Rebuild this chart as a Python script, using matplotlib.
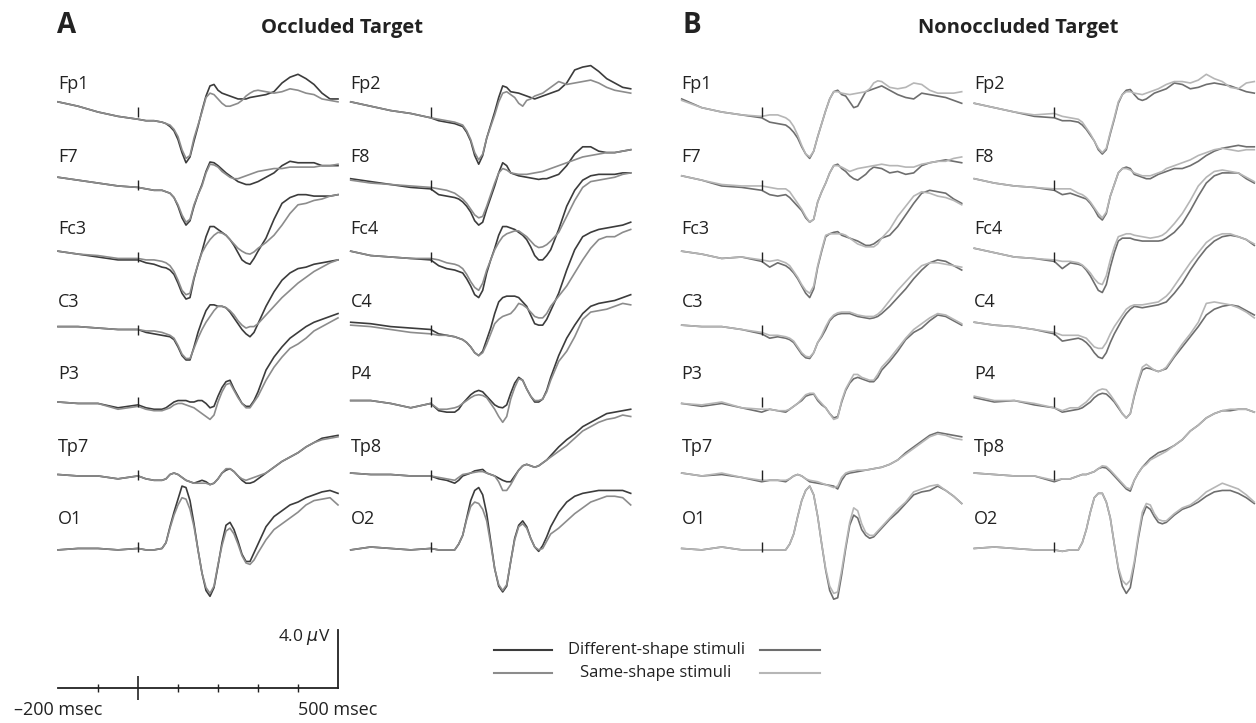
import matplotlib.pyplot as plt
from matplotlib.lines import Line2D

plt.rcParams['font.family'] = ['Open Sans', 'DejaVu Sans']

# time samples (msec), shared by every trace; denser where the components are
TIME = [-200, -150, -100, -50, 0, 20, 40,
        60, 70, 80, 90, 100, 110, 120, 130, 140, 150, 160, 170, 180, 190, 200,
        210, 220, 230, 240, 250, 260, 270, 280, 290, 300,
        320, 340, 360, 380, 400, 420, 440, 460, 480, 500]

# amplitudes in microvolts
# A: occluded target, left electrodes
occ_Fp1_diff = [0.7, 0.4, 0.0, -0.3, -0.5, -0.6, -0.6,
                -0.7, -0.8, -1.0, -1.3, -1.9, -2.8, -3.5, -3.1, -2.0, -1.0, 0.1, 1.1, 1.8, 1.9, 1.5, 1.3, 1.2, 1.1, 1.0, 0.9, 0.9, 0.9, 1.0, 1.05, 1.1,
                1.2, 1.4, 2.0, 2.4, 2.6, 2.3, 1.9, 1.3, 0.9, 0.9]
occ_Fp1_same = [0.7, 0.4, 0.0, -0.3, -0.5, -0.6, -0.6,
                -0.7, -0.8, -0.9, -1.2, -1.7, -2.6, -3.2, -3.0, -1.8, -0.9, 0.0, 1.0, 1.3, 1.2, 0.9, 0.6, 0.4, 0.4, 0.5, 0.6, 0.8, 1.1, 1.3, 1.45, 1.5,
                1.4, 1.3, 1.4, 1.6, 1.5, 1.3, 1.2, 0.9, 0.8, 0.7]
occ_F7_diff = [0.5, 0.3, 0.1, -0.1, -0.2, -0.3, -0.4,
               -0.4, -0.5, -0.6, -0.9, -1.5, -2.3, -2.8, -2.5, -1.5, -0.7, 0.0, 0.9, 1.55, 1.5, 1.3, 1.05, 0.8, 0.6, 0.4, 0.2, 0.1, 0.0, 0.0, 0.1, 0.2,
               0.5, 0.8, 1.3, 1.6, 1.5, 1.5, 1.5, 1.3, 1.3, 1.3]
occ_F7_same = [0.5, 0.3, 0.1, -0.1, -0.2, -0.3, -0.4,
               -0.4, -0.5, -0.6, -0.9, -1.4, -2.1, -2.6, -2.4, -1.4, -0.7, -0.1, 0.8, 1.4, 1.35, 1.2, 0.9, 0.7, 0.5, 0.4, 0.4, 0.5, 0.6, 0.7, 0.8, 0.9,
               1.0, 1.1, 1.1, 1.2, 1.2, 1.2, 1.2, 1.3, 1.3, 1.4]
occ_Fc3_diff = [0.4, 0.2, 0.0, -0.2, -0.2, -0.4, -0.5,
                -0.7, -0.75, -0.9, -1.2, -1.8, -2.5, -2.9, -2.8, -1.5, -0.5, 0.4, 1.4, 2.1, 2.1, 1.9, 1.7, 1.5, 1.2, 0.8, 0.3, -0.2, -0.4, -0.5, -0.1, 0.4,
                1.3, 2.6, 3.7, 4.1, 4.3, 4.3, 4.2, 4.2, 4.2, 4.3]
occ_Fc3_same = [0.4, 0.2, 0.1, -0.1, -0.1, -0.2, -0.2,
                -0.3, -0.4, -0.6, -1.0, -1.6, -2.3, -2.6, -2.5, -1.4, -0.5, 0.3, 0.8, 1.2, 1.5, 1.7, 1.65, 1.5, 1.2, 0.9, 0.6, 0.4, 0.25, 0.2, 0.35, 0.6,
                1.0, 1.5, 2.2, 3.0, 3.6, 3.7, 3.9, 4.0, 4.2, 4.3]
occ_C3_diff = [0.2, 0.2, 0.1, 0.0, 0.0, -0.2, -0.3,
               -0.4, -0.45, -0.5, -0.7, -1.2, -1.8, -2.1, -2.1, -1.2, -0.2, 0.6, 1.3, 1.7, 1.7, 1.6, 1.6, 1.5, 1.2, 0.8, 0.4, 0.0, -0.3, -0.5, -0.2, 0.4,
               1.6, 2.6, 3.4, 3.9, 4.2, 4.3, 4.5, 4.6, 4.7, 4.8]
occ_C3_same = [0.2, 0.2, 0.1, 0.0, 0.0, -0.1, -0.1,
               -0.2, -0.3, -0.4, -0.6, -1.1, -1.7, -2.0, -2.0, -1.3, -0.6, 0.0, 0.5, 0.9, 1.3, 1.6, 1.6, 1.5, 1.3, 1.0, 0.6, 0.3, 0.1, 0.2, 0.2, 0.4,
               1.0, 1.6, 2.2, 2.7, 3.2, 3.6, 4.0, 4.3, 4.6, 4.8]
occ_P3_diff = [0.0, -0.1, -0.1, -0.4, -0.2, -0.4, -0.5,
               -0.5, -0.4, -0.2, 0.0, 0.1, 0.1, 0.1, 0.0, 0.0, 0.1, 0.1, -0.1, -0.4, -0.3, 0.4, 1.0, 1.4, 1.5, 0.9, 0.4, -0.1, -0.3, -0.3, 0.1, 0.7,
               2.2, 3.1, 3.8, 4.4, 4.8, 5.2, 5.5, 5.7, 5.9, 6.1]
occ_P3_same = [0.0, -0.1, -0.1, -0.5, -0.3, -0.5, -0.6,
               -0.6, -0.5, -0.4, -0.2, -0.1, -0.1, -0.2, -0.3, -0.4, -0.6, -0.8, -1.0, -1.2, -0.9, 0.0, 0.7, 1.2, 1.3, 0.8, 0.3, -0.1, -0.4, -0.4, 0.0, 0.4,
               1.5, 2.4, 3.1, 3.7, 4.0, 4.4, 4.9, 5.2, 5.5, 5.8]
occ_Tp7_diff = [0.0, -0.1, -0.1, -0.3, -0.1, -0.3, -0.4,
                -0.4, -0.3, 0.0, 0.1, 0.0, -0.2, -0.4, -0.5, -0.6, -0.5, -0.4, -0.5, -0.7, -0.6, -0.3, 0.1, 0.3, 0.4, 0.2, -0.1, -0.4, -0.6, -0.6, -0.5, -0.3,
                0.1, 0.5, 0.9, 1.2, 1.5, 1.9, 2.2, 2.5, 2.6, 2.7]
occ_Tp7_same = [0.0, -0.1, -0.1, -0.3, -0.1, -0.3, -0.4,
                -0.4, -0.3, 0.0, 0.1, 0.0, -0.2, -0.4, -0.5, -0.6, -0.6, -0.6, -0.6, -0.7, -0.6, -0.3, 0.1, 0.4, 0.4, 0.2, -0.1, -0.3, -0.4, -0.3, -0.2, -0.1,
                0.1, 0.5, 0.9, 1.2, 1.5, 1.9, 2.2, 2.4, 2.5, 2.6]
occ_O1_diff = [-0.2, -0.1, -0.1, -0.2, -0.1, -0.2, -0.2,
               -0.1, 0.3, 1.4, 2.4, 3.3, 4.2, 4.1, 3.2, 1.6, -0.2, -1.8, -3.0, -3.4, -2.8, -1.3, 0.3, 1.5, 1.7, 1.2, 0.4, -0.5, -1.0, -1.0, -0.4, 0.2,
               1.4, 2.1, 2.5, 2.9, 3.1, 3.4, 3.6, 3.8, 3.9, 3.7]
occ_O1_same = [-0.2, -0.1, -0.1, -0.2, -0.1, -0.2, -0.2,
               -0.1, 0.3, 1.3, 2.2, 2.9, 3.4, 3.3, 2.6, 1.4, -0.2, -1.8, -2.8, -3.2, -2.7, -1.2, 0.1, 1.1, 1.3, 0.9, 0.2, -0.6, -1.1, -1.2, -0.9, -0.4,
               0.5, 1.2, 1.6, 2.0, 2.4, 2.9, 3.2, 3.3, 3.4, 2.9]

# A: occluded target, right electrodes
occ_Fp2_diff = [0.7, 0.4, 0.1, -0.1, -0.4, -0.6, -0.7,
                -0.8, -0.9, -1.0, -1.4, -2.0, -3.0, -3.6, -3.0, -1.8, -0.9, 0.0, 1.0, 1.8, 1.7, 1.4, 1.35, 1.3, 1.2, 1.1, 1.0, 0.9, 1.0, 1.1, 1.2, 1.3,
                1.5, 2.0, 2.9, 3.1, 3.2, 2.8, 2.3, 2.0, 1.7, 1.6]
occ_Fp2_same = [0.7, 0.4, 0.1, -0.1, -0.4, -0.5, -0.6,
                -0.7, -0.8, -0.9, -1.3, -1.9, -2.8, -3.3, -2.9, -1.8, -1.0, -0.2, 0.7, 1.3, 1.4, 1.2, 1.0, 0.6, 0.4, 0.8, 0.9, 1.1, 1.2, 1.3, 1.5, 1.7,
                2.1, 1.9, 2.0, 2.1, 2.2, 2.0, 1.7, 1.5, 1.4, 1.3]
occ_F8_diff = [0.4, 0.2, 0.0, -0.2, -0.3, -0.7, -0.8,
               -0.9, -1.0, -1.2, -1.5, -1.9, -2.5, -2.8, -2.6, -1.7, -0.9, -0.1, 0.8, 1.5, 1.3, 0.8, 0.7, 0.6, 0.55, 0.5, 0.45, 0.4, 0.35, 0.4, 0.4, 0.5,
               0.7, 1.3, 2.1, 2.6, 2.6, 2.3, 2.2, 2.2, 2.3, 2.4]
occ_F8_same = [0.3, 0.1, 0.0, -0.1, -0.2, -0.3, -0.4,
               -0.6, -0.8, -1.0, -1.3, -1.7, -2.1, -2.3, -2.2, -1.5, -0.7, 0.1, 0.8, 1.1, 1.0, 0.8, 0.75, 0.7, 0.7, 0.7, 0.75, 0.8, 0.85, 0.9, 1.0, 1.1,
               1.3, 1.5, 1.7, 1.9, 2.0, 2.1, 2.2, 2.2, 2.3, 2.4]
occ_Fc4_diff = [0.4, 0.1, 0.0, -0.1, -0.2, -0.6, -0.8,
                -0.9, -1.0, -1.1, -1.5, -2.0, -2.6, -2.8, -2.3, -1.1, -0.2, 0.6, 1.5, 2.1, 2.1, 2.0, 1.9, 1.7, 1.5, 1.2, 0.7, 0.1, -0.2, -0.2, 0.1, 0.5,
                1.9, 3.5, 4.6, 5.3, 5.6, 5.7, 5.7, 5.7, 5.8, 5.8]
occ_Fc4_same = [0.4, 0.1, 0.0, -0.1, -0.1, -0.2, -0.4,
                -0.5, -0.6, -0.8, -1.2, -1.7, -2.1, -2.3, -1.8, -0.9, -0.2, 0.5, 1.0, 1.4, 1.6, 1.7, 1.8, 1.8, 1.6, 1.4, 1.1, 0.8, 0.65, 0.7, 0.85, 1.1,
                1.7, 2.8, 3.9, 4.8, 5.2, 5.3, 5.4, 5.5, 5.7, 5.8]
occ_C4_diff = [0.5, 0.4, 0.2, 0.1, 0.0, -0.3, -0.4,
               -0.5, -0.6, -0.7, -0.9, -1.2, -1.6, -1.8, -1.5, -0.7, 0.1, 1.1, 1.9, 2.2, 2.3, 2.3, 2.3, 2.2, 1.9, 1.6, 1.0, 0.4, 0.3, 0.3, 0.7, 1.3,
               2.5, 4.1, 5.5, 6.4, 6.7, 6.9, 7.0, 7.1, 7.2, 7.4]
occ_C4_same = [0.3, 0.2, 0.0, -0.2, -0.3, -0.4, -0.4,
               -0.5, -0.6, -0.7, -0.9, -1.2, -1.6, -1.8, -1.6, -1.0, -0.3, 0.4, 0.7, 0.9, 1.0, 1.1, 1.4, 1.8, 1.7, 1.5, 1.2, 0.9, 0.8, 0.8, 1.1, 1.6,
               2.3, 3.0, 3.9, 4.8, 5.6, 6.2, 6.4, 6.4, 6.7, 6.9]
occ_P4_diff = [0.1, 0.1, -0.1, -0.4, -0.1, -0.6, -0.7,
               -0.7, -0.5, -0.1, 0.2, 0.5, 0.7, 0.8, 0.7, 0.4, 0.1, -0.2, -0.35, -0.4, -0.2, 0.6, 1.3, 1.7, 1.5, 0.9, 0.4, 0.0, 0.0, 0.2, 0.8, 1.7,
               3.2, 4.4, 5.3, 6.1, 6.6, 6.8, 6.9, 7.0, 7.2, 7.4]
occ_P4_same = [0.1, 0.1, -0.1, -0.4, -0.1, -0.5, -0.5,
               -0.4, -0.3, -0.1, 0.1, 0.3, 0.45, 0.5, 0.45, 0.3, -0.1, -0.5, -1.0, -1.4, -1.0, 0.2, 1.0, 1.6, 1.5, 0.9, 0.4, 0.1, 0.1, 0.2, 0.7, 1.5,
               2.8, 3.5, 4.5, 5.7, 6.2, 6.3, 6.4, 6.6, 6.8, 6.7]
occ_Tp8_diff = [0.1, 0.0, 0.0, -0.1, -0.1, -0.3, -0.4,
                -0.6, -0.4, -0.1, 0.0, 0.1, 0.25, 0.3, 0.35, 0.1, 0.0, -0.1, -0.25, -0.4, -0.5, -0.5, -0.1, 0.3, 0.6, 0.7, 0.6, 0.5, 0.6, 0.8, 1.0, 1.3,
                1.9, 2.4, 2.8, 3.3, 3.6, 3.9, 4.2, 4.3, 4.4, 4.5]
occ_Tp8_same = [0.1, 0.0, 0.0, -0.1, -0.1, -0.2, -0.3,
                -0.4, -0.2, 0.0, 0.05, 0.1, 0.15, 0.2, 0.2, 0.1, 0.0, -0.1, -0.5, -1.1, -1.1, -0.7, -0.2, 0.3, 0.6, 0.7, 0.6, 0.5, 0.6, 0.8, 1.0, 1.2,
                1.6, 2.0, 2.5, 3.0, 3.3, 3.6, 3.8, 3.9, 4.1, 4.0]
occ_O2_diff = [-0.2, 0.0, -0.1, -0.2, -0.1, -0.2, -0.2,
               -0.2, 0.2, 0.8, 2.0, 3.2, 3.9, 4.1, 3.6, 2.3, 0.4, -1.5, -2.7, -3.1, -2.7, -1.0, 0.6, 1.5, 1.8, 1.4, 0.6, 0.0, -0.3, 0.1, 0.7, 1.4,
               2.4, 3.1, 3.5, 3.7, 3.8, 3.9, 3.9, 3.9, 3.9, 3.7]
occ_O2_same = [-0.2, 0.0, -0.1, -0.2, -0.1, -0.2, -0.2,
               -0.2, 0.2, 0.8, 1.9, 2.8, 3.1, 3.0, 2.6, 1.8, 0.2, -1.5, -2.6, -3.0, -2.6, -1.0, 0.5, 1.4, 1.6, 1.3, 0.6, 0.0, -0.2, -0.1, 0.4, 0.9,
               1.3, 1.8, 2.3, 2.7, 3.1, 3.3, 3.5, 3.5, 3.4, 2.9]

# B: nonoccluded target, left electrodes
non_Fp1_diff = [0.9, 0.3, 0.0, -0.2, -0.4, -0.7, -0.8,
                -0.9, -1.1, -1.4, -1.8, -2.4, -2.9, -3.2, -2.7, -1.7, -0.8, 0.1, 0.9, 1.4, 1.5, 1.2, 1.1, 0.7, 0.3, 0.4, 0.9, 1.4, 1.5, 1.6, 1.7, 1.8,
                1.5, 1.2, 1.0, 0.9, 1.3, 1.2, 1.1, 1.0, 0.8, 0.6]
non_Fp1_same = [0.8, 0.3, 0.0, -0.2, -0.3, -0.2, -0.2,
                -0.4, -0.6, -1.0, -1.6, -2.3, -2.9, -3.1, -2.7, -1.7, -0.8, 0.1, 0.9, 1.4, 1.4, 1.3, 1.25, 1.2, 1.25, 1.3, 1.35, 1.4, 1.6, 2.0, 2.15, 2.1,
                1.7, 1.6, 1.7, 2.0, 1.9, 1.5, 1.3, 1.3, 1.3, 1.4]
non_F7_diff = [0.6, 0.3, -0.1, -0.2, -0.4, -0.7, -0.8,
               -0.7, -0.9, -1.2, -1.5, -1.8, -2.3, -2.6, -2.4, -1.2, -0.5, 0.1, 0.8, 1.3, 1.4, 1.1, 0.9, 0.6, 0.4, 0.3, 0.5, 0.7, 1.0, 1.2, 1.15, 1.1,
               0.8, 0.9, 0.7, 0.8, 1.3, 1.5, 1.6, 1.7, 1.6, 1.5]
non_F7_same = [0.6, 0.3, 0.0, -0.1, -0.1, -0.2, -0.3,
               -0.3, -0.5, -0.9, -1.3, -1.7, -2.2, -2.6, -2.4, -1.2, -0.5, 0.1, 0.8, 1.3, 1.3, 1.2, 1.05, 0.9, 1.0, 1.1, 1.15, 1.2, 1.25, 1.3, 1.35, 1.4,
               1.3, 1.3, 1.2, 1.2, 1.4, 1.5, 1.6, 1.6, 1.8, 1.9]
non_Fc3_diff = [0.4, 0.2, -0.1, 0.0, -0.3, -0.7, -0.4,
                -0.6, -0.8, -1.1, -1.5, -2.0, -2.5, -2.8, -2.2, -0.7, 0.4, 1.4, 1.6, 1.7, 1.75, 1.5, 1.4, 1.3, 1.2, 1.1, 0.95, 0.8, 0.8, 0.9, 1.1, 1.3,
                1.5, 2.1, 2.9, 3.7, 4.4, 4.6, 4.5, 4.4, 4.0, 3.7]
non_Fc3_same = [0.4, 0.2, -0.1, 0.0, -0.2, -0.3, -0.2,
                -0.4, -0.6, -1.0, -1.4, -1.9, -2.3, -2.5, -2.0, -0.6, 0.5, 1.5, 1.6, 1.6, 1.6, 1.6, 1.5, 1.3, 1.1, 0.9, 0.8, 0.7, 0.7, 0.7, 0.9, 1.3,
                1.9, 2.8, 3.5, 4.2, 4.5, 4.4, 4.2, 4.1, 3.9, 3.6]
non_C3_diff = [0.3, 0.2, 0.2, 0.0, -0.3, -0.6, -0.5,
               -0.6, -0.7, -0.9, -1.3, -1.7, -1.95, -2.0, -1.6, -0.9, -0.5, 0.0, 0.6, 0.9, 1.05, 1.1, 1.1, 1.1, 1.0, 0.9, 0.85, 0.8, 0.75, 0.8, 0.9, 1.1,
               1.6, 2.2, 2.8, 3.5, 4.1, 4.6, 4.8, 4.7, 4.4, 4.1]
non_C3_same = [0.3, 0.2, 0.2, 0.0, -0.2, -0.4, -0.4,
               -0.5, -0.6, -0.8, -1.2, -1.6, -1.85, -1.9, -1.6, -0.9, -0.4, 0.2, 0.7, 1.0, 1.15, 1.2, 1.2, 1.2, 1.1, 1.0, 0.95, 0.9, 0.9, 0.9, 1.05, 1.3,
               2.0, 2.7, 3.3, 3.9, 4.4, 4.6, 4.6, 4.5, 4.4, 4.3]
non_P3_diff = [-0.1, -0.3, -0.1, -0.4, -0.7, -0.5, -0.6,
               -0.7, -0.5, -0.3, -0.1, 0.1, 0.4, 0.5, 0.55, 0.1, -0.2, -0.4, -0.8, -1.1, -1.0, 0.0, 0.8, 1.3, 1.6, 1.7, 1.6, 1.5, 1.4, 1.4, 1.7, 2.2,
               2.8, 3.5, 4.3, 4.8, 5.1, 5.6, 6.0, 5.9, 5.6, 5.3]
non_P3_same = [-0.1, -0.2, 0.0, -0.4, -0.5, -0.5, -0.6,
               -0.6, -0.5, -0.3, -0.1, 0.2, 0.5, 0.6, 0.6, 0.2, -0.1, -0.4, -0.8, -1.2, -1.1, 0.1, 0.9, 1.4, 1.9, 1.9, 1.7, 1.6, 1.5, 1.5, 1.9, 2.4,
               3.0, 3.7, 4.4, 5.0, 5.4, 5.8, 6.1, 6.0, 5.7, 5.4]
non_Tp7_diff = [0.1, -0.1, 0.0, -0.2, -0.5, -0.4, -0.4,
                -0.5, -0.3, -0.1, 0.0, -0.1, -0.3, -0.5, -0.55, -0.6, -0.65, -0.7, -0.75, -0.8, -1.0, -0.4, 0.0, 0.1, 0.15, 0.2, 0.25, 0.3, 0.35, 0.4, 0.45, 0.5,
                0.7, 1.0, 1.5, 1.9, 2.3, 2.7, 2.9, 2.8, 2.7, 2.6]
non_Tp7_same = [0.1, -0.1, 0.1, -0.2, -0.4, -0.4, -0.4,
                -0.4, -0.3, -0.1, 0.0, -0.1, -0.3, -0.4, -0.45, -0.5, -0.6, -0.7, -0.8, -0.9, -0.8, -0.2, 0.1, 0.2, 0.25, 0.3, 0.3, 0.3, 0.35, 0.4, 0.45, 0.5,
                0.7, 1.0, 1.4, 1.8, 2.2, 2.6, 2.8, 2.7, 2.5, 2.4]
non_O1_diff = [-0.1, -0.2, 0.0, -0.2, -0.2, -0.2, -0.2,
               -0.2, 0.2, 0.9, 2.1, 3.2, 3.9, 4.2, 3.6, 2.1, 0.2, -1.6, -3.0, -3.6, -3.5, -1.9, -0.1, 1.5, 2.2, 2.0, 1.2, 0.8, 0.6, 0.7, 1.0, 1.3,
               1.9, 2.4, 3.0, 3.6, 3.8, 3.9, 4.2, 3.9, 3.5, 3.0]
non_O1_same = [-0.1, -0.2, 0.0, -0.2, -0.2, -0.2, -0.2,
               -0.2, 0.2, 0.9, 2.1, 3.2, 3.9, 4.2, 3.6, 2.1, 0.2, -1.5, -2.7, -3.2, -3.1, -1.6, 0.1, 1.7, 2.7, 2.5, 1.6, 1.0, 0.8, 0.8, 1.1, 1.4,
               2.0, 2.6, 3.1, 3.8, 4.0, 4.2, 4.3, 3.9, 3.5, 3.0]

# B: nonoccluded target, right electrodes
non_Fp2_diff = [0.6, 0.3, 0.0, -0.3, -0.4, -0.6, -0.6,
                -0.7, -0.9, -1.2, -1.6, -2.0, -2.6, -2.9, -2.6, -1.5, -0.5, 0.6, 1.2, 1.5, 1.55, 1.2, 0.9, 0.8, 0.9, 1.1, 1.3, 1.4, 1.5, 1.6, 1.8, 2.0,
                1.9, 1.6, 1.7, 1.9, 2.0, 1.9, 1.8, 1.6, 1.4, 1.3]
non_Fp2_same = [0.6, 0.3, 0.0, -0.2, -0.1, -0.3, -0.4,
                -0.5, -0.7, -1.1, -1.5, -2.0, -2.5, -2.8, -2.5, -1.4, -0.4, 0.7, 1.2, 1.4, 1.4, 1.3, 1.25, 1.2, 1.3, 1.4, 1.5, 1.6, 1.75, 1.9, 2.0, 2.1,
                2.1, 2.0, 2.2, 2.6, 2.3, 2.1, 1.7, 1.6, 2.0, 2.1]
non_F8_diff = [0.4, 0.1, -0.1, -0.2, -0.4, -0.7, -0.6,
               -0.8, -0.9, -1.0, -1.3, -1.7, -2.2, -2.45, -2.0, -0.8, 0.0, 0.8, 1.1, 1.2, 1.1, 0.7, 0.6, 0.5, 0.4, 0.4, 0.55, 0.7, 0.8, 0.9, 1.0, 1.1,
               1.1, 1.3, 1.6, 2.0, 2.3, 2.5, 2.6, 2.7, 2.6, 2.6]
non_F8_same = [0.4, 0.1, -0.1, -0.2, -0.3, -0.3, -0.3,
               -0.6, -0.7, -0.9, -1.2, -1.6, -2.0, -2.3, -1.9, -0.8, 0.0, 0.8, 1.1, 1.1, 1.0, 0.8, 0.7, 0.6, 0.6, 0.6, 0.7, 0.8, 0.9, 1.1, 1.2, 1.3,
               1.5, 1.7, 2.0, 2.2, 2.4, 2.5, 2.4, 2.3, 2.4, 2.4]
non_Fc4_diff = [0.6, 0.3, 0.0, -0.1, -0.3, -0.8, -0.4,
                -0.5, -0.6, -0.9, -1.3, -1.8, -2.3, -2.45, -1.9, -0.7, 0.3, 1.1, 1.3, 1.3, 1.3, 1.2, 1.15, 1.1, 1.1, 1.1, 1.1, 1.1, 1.15, 1.3, 1.5, 1.7,
                2.3, 3.2, 4.2, 5.1, 5.6, 5.8, 5.8, 5.8, 5.4, 5.1]
non_Fc4_same = [0.6, 0.3, 0.0, -0.1, -0.2, -0.3, -0.3,
                -0.4, -0.55, -0.8, -1.1, -1.5, -1.8, -1.9, -1.3, -0.2, 0.7, 1.4, 1.5, 1.6, 1.6, 1.5, 1.45, 1.4, 1.35, 1.3, 1.35, 1.4, 1.5, 1.7, 2.0, 2.3,
                3.0, 3.9, 4.9, 5.5, 5.9, 6.0, 5.9, 5.8, 5.5, 5.2]
non_C4_diff = [0.5, 0.3, 0.2, 0.0, -0.3, -0.8, -0.7,
               -0.6, -0.7, -0.9, -1.2, -1.6, -1.9, -2.0, -1.6, -0.9, -0.3, 0.2, 0.7, 1.1, 1.4, 1.6, 1.55, 1.5, 1.55, 1.6, 1.65, 1.7, 1.8, 1.9, 2.2, 2.5,
               3.2, 4.1, 4.9, 5.6, 6.1, 6.4, 6.5, 6.4, 6.2, 5.8]
non_C4_same = [0.5, 0.3, 0.2, 0.0, -0.2, -0.4, -0.4,
               -0.4, -0.5, -0.6, -0.9, -1.2, -1.3, -1.3, -0.9, -0.3, 0.2, 0.6, 1.0, 1.4, 1.6, 1.7, 1.7, 1.7, 1.75, 1.8, 1.85, 1.9, 2.1, 2.3, 2.6, 3.0,
               3.8, 4.6, 5.3, 6.0, 6.4, 6.6, 6.6, 6.4, 6.2, 5.9]
non_P4_diff = [0.3, 0.0, 0.1, -0.2, -0.4, -0.7, -0.6,
               -0.5, -0.4, -0.2, 0.0, 0.3, 0.5, 0.6, 0.55, 0.3, 0.0, -0.4, -0.8, -1.1, -0.8, 0.4, 1.4, 2.2, 2.35, 2.3, 2.2, 2.1, 2.2, 2.3, 2.7, 3.1,
               3.8, 4.5, 5.2, 6.0, 6.4, 6.6, 6.7, 6.6, 6.3, 6.0]
non_P4_same = [0.4, 0.1, 0.1, -0.1, -0.4, -0.6, -0.4,
               -0.4, -0.2, 0.0, 0.3, 0.6, 0.8, 0.9, 0.85, 0.5, 0.1, -0.3, -0.8, -1.1, -0.8, 0.5, 1.5, 2.4, 2.6, 2.4, 2.2, 2.1, 2.2, 2.4, 2.8, 3.2,
               4.0, 4.7, 5.5, 6.8, 6.9, 6.8, 6.7, 6.5, 6.2, 5.8]
non_Tp8_diff = [0.1, 0.0, -0.1, -0.1, -0.5, -0.3, -0.3,
                -0.1, 0.0, 0.0, 0.1, 0.2, 0.4, 0.5, 0.45, 0.2, -0.1, -0.4, -0.7, -1.0, -1.15, -0.4, 0.1, 0.5, 0.8, 1.1, 1.3, 1.5, 1.6, 1.7, 1.85, 2.0,
                2.4, 3.0, 3.4, 3.9, 4.2, 4.4, 4.4, 4.5, 4.5, 4.3]
non_Tp8_same = [0.1, 0.0, -0.1, -0.1, -0.4, -0.3, -0.3,
                -0.1, 0.0, 0.0, 0.1, 0.2, 0.4, 0.6, 0.55, 0.3, 0.0, -0.3, -0.6, -0.9, -1.0, -0.4, 0.1, 0.5, 0.7, 1.0, 1.15, 1.3, 1.45, 1.6, 1.8, 2.0,
                2.4, 3.0, 3.4, 3.9, 4.2, 4.4, 4.5, 4.5, 4.5, 4.3]
non_O2_diff = [-0.1, 0.0, -0.1, -0.2, -0.2, -0.3, -0.2,
               -0.2, 0.3, 1.2, 2.4, 3.4, 3.7, 3.7, 3.1, 2.0, 0.2, -1.5, -2.7, -3.2, -2.8, -1.2, 0.6, 2.1, 2.8, 2.6, 2.1, 1.7, 1.6, 1.7, 1.95, 2.2,
               2.6, 2.8, 3.1, 3.5, 3.8, 3.9, 3.9, 3.7, 3.4, 3.0]
non_O2_same = [-0.1, 0.0, -0.1, -0.2, -0.2, -0.3, -0.2,
               -0.2, 0.3, 1.2, 2.4, 3.4, 3.7, 3.7, 3.1, 2.0, 0.2, -1.4, -2.3, -2.6, -2.3, -1.0, 0.8, 2.4, 3.0, 2.9, 2.3, 1.9, 1.8, 1.8, 2.05, 2.3,
               2.7, 2.9, 3.3, 3.8, 4.1, 4.4, 4.2, 4.0, 3.6, 3.1]

LEFT_NAMES = ['Fp1', 'F7', 'Fc3', 'C3', 'P3', 'Tp7', 'O1']
RIGHT_NAMES = ['Fp2', 'F8', 'Fc4', 'C4', 'P4', 'Tp8', 'O2']
LEGEND_LABELS = ['Different-shape stimuli', 'Same-shape stimuli']
SCALE_UV = 4.0
SCALE_TICKS = [-100, 100, 200, 300, 400]

occ_left = [(occ_Fp1_diff, occ_Fp1_same), (occ_F7_diff, occ_F7_same), (occ_Fc3_diff, occ_Fc3_same),
            (occ_C3_diff, occ_C3_same), (occ_P3_diff, occ_P3_same), (occ_Tp7_diff, occ_Tp7_same),
            (occ_O1_diff, occ_O1_same)]
occ_right = [(occ_Fp2_diff, occ_Fp2_same), (occ_F8_diff, occ_F8_same), (occ_Fc4_diff, occ_Fc4_same),
             (occ_C4_diff, occ_C4_same), (occ_P4_diff, occ_P4_same), (occ_Tp8_diff, occ_Tp8_same),
             (occ_O2_diff, occ_O2_same)]
non_left = [(non_Fp1_diff, non_Fp1_same), (non_F7_diff, non_F7_same), (non_Fc3_diff, non_Fc3_same),
            (non_C3_diff, non_C3_same), (non_P3_diff, non_P3_same), (non_Tp7_diff, non_Tp7_same),
            (non_O1_diff, non_O1_same)]
non_right = [(non_Fp2_diff, non_Fp2_same), (non_F8_diff, non_F8_same), (non_Fc4_diff, non_Fc4_same),
             (non_C4_diff, non_C4_same), (non_P4_diff, non_P4_same), (non_Tp8_diff, non_Tp8_same),
             (non_O2_diff, non_O2_same)]

# layout in pixels of the 1256x723 picture
W, H = 1256, 723
PX_PER_MS = 0.4
PX_PER_UV = 14.5
YMIN, YMAX = -5, 8
ROW_Y0 = [112 + 72.5 * i for i in range(7)]
COL_OCC = ('#3c3c3c', '#8c8c8c')
COL_NON = ('#6e6e6e', '#b6b6b6')
INK = '#222222'

columns = [
    (58, LEFT_NAMES, occ_left, COL_OCC),
    (350.7, RIGHT_NAMES, occ_right, COL_OCC),
    (681.7, LEFT_NAMES, non_left, COL_NON),
    (974.3, RIGHT_NAMES, non_right, COL_NON),
]

fig = plt.figure(figsize=(W / 100, H / 100), dpi=100)
fig.patch.set_facecolor('white')

span_ms = TIME[-1] - TIME[0]


def make_axes(x_left, y_zero, ymin, ymax):
    # axes whose data coords are msec / microvolts at the picture's scale
    bottom_px = y_zero - ymin * PX_PER_UV
    ax = fig.add_axes([x_left / W, 1 - bottom_px / H,
                       span_ms * PX_PER_MS / W, (ymax - ymin) * PX_PER_UV / H])
    ax.set_xlim(TIME[0], TIME[-1])
    ax.set_ylim(ymin, ymax)
    ax.axis('off')
    ax.patch.set_alpha(0)
    return ax


for x_left, names, traces, (c_diff, c_same) in columns:
    for name, y0, (diff, same) in zip(names, ROW_Y0, traces):
        ax = make_axes(x_left, y0, YMIN, YMAX)
        ax.plot(TIME, diff, color=c_diff, lw=1.2, clip_on=False, solid_joinstyle='round')
        ax.plot(TIME, same, color=c_same, lw=1.2, clip_on=False, solid_joinstyle='round')
        ax.plot([0], [0], marker='|', ms=7, mew=1.0, color=INK, clip_on=False)
        fig.text(x_left / W, 1 - (y0 - 28) / H, name, ha='left', va='center',
                 fontsize=13, color=INK)

# panel headers
fig.text(57 / W, 1 - 33 / H, 'A', fontsize=20, weight='bold', va='baseline', color=INK)
fig.text(342 / W, 1 - 33 / H, 'Occluded Target', fontsize=14.5, weight='bold',
         ha='center', va='baseline', color=INK)
fig.text(682 / W, 1 - 33 / H, 'B', fontsize=20, weight='bold', va='baseline', color=INK)
fig.text(1018 / W, 1 - 33 / H, 'Nonoccluded Target', fontsize=14.5, weight='bold',
         ha='center', va='baseline', color=INK)

# time / amplitude scale bar
sb = make_axes(58, 688, -2, 5)
sb.plot([TIME[0], TIME[-1]], [0, 0], color=INK, lw=1.3, clip_on=False)
sb.plot([TIME[-1], TIME[-1]], [0, SCALE_UV], color=INK, lw=1.3, clip_on=False)
sb.vlines(SCALE_TICKS, -0.28, 0.28, color=INK, lw=1.0)
sb.vlines([0], -0.85, 0.85, color=INK, lw=1.2)
sb.text(482, 3.5, r'4.0 $\mu$V', ha='right', va='center', fontsize=12.5, color=INK)
sb.text(TIME[0], -1.55, '\u2013200 msec', ha='center', va='center', fontsize=13, color=INK)
sb.text(TIME[-1], -1.55, '500 msec', ha='center', va='center', fontsize=13, color=INK)

# legend: a line for each panel on either side of the label
for label, y, a_col, b_col in zip(LEGEND_LABELS, [650, 673], COL_OCC, COL_NON):
    yf = 1 - y / H
    fig.add_artist(Line2D([494 / W, 552 / W], [yf, yf], color=a_col, lw=1.5))
    fig.add_artist(Line2D([760 / W, 820 / W], [yf, yf], color=b_col, lw=1.5))
    fig.text(656 / W, yf, label, ha='center', va='center', fontsize=12, color=INK)

fig.savefig('out.png', dpi=100)
